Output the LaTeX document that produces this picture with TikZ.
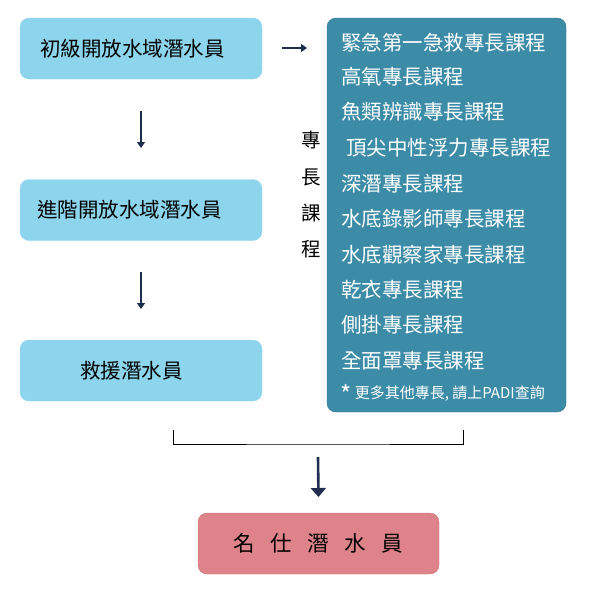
\documentclass[tikz,border=0pt]{standalone}
\usepackage{fontspec}
\setmainfont{Noto Sans CJK TC}
\usetikzlibrary{arrows.meta}
\definecolor{lightbox}{HTML}{8DD5EC}
\definecolor{tealbox}{HTML}{3C8CA8}
\definecolor{pinkbox}{HTML}{DE8389}
\definecolor{navy}{HTML}{1F2D4E}
\begin{document}
\begin{tikzpicture}[x=1pt,y=-1pt,
  lvl/.style={draw=lightbox!90!white, fill=lightbox, rounded corners=9pt, minimum width=242pt, minimum height=61pt, inner sep=0pt, font=\fontsize{20.5}{22}\selectfont, text=black},
  course/.style={anchor=west, text=white, inner sep=0pt, font=\fontsize{20.5}{22}\selectfont},
  vchar/.style={inner sep=0pt, font=\fontsize{19.5}{22}\selectfont},
  arr/.style={draw=navy, line width=2.6pt, -{Triangle[width=15pt,length=9pt]}},
  sarr/.style={draw=navy, line width=1.3pt, -{Triangle[width=8pt,length=6pt]}}]
\useasboundingbox (0,0) rectangle (591,600);
\node[lvl] (b1) at (141,48.5) {\hspace*{-17pt}初級開放水域潛水員};
\node[lvl] (b2) at (141,210) {\hspace*{-23pt}進階開放水域潛水員};
\node[lvl] (b3) at (141,370.5) {\hspace*{-19pt}救援潛水員};
\node[draw=tealbox!80!black, fill=tealbox, rounded corners=9pt, minimum width=239pt, minimum height=394pt, inner sep=0pt] (tb) at (446.5,215) {};
\node[course] (c1) at (341,43) {緊急第一急救專長課程};
\node[course] (c2) at (341,77) {高氧專長課程};
\node[course] (c4) at (341,112) {魚類辨識專長課程};
\node[course] (c3) at (346,148) {頂尖中性浮力專長課程};
\node[course] (c5) at (341,184) {深潛專長課程};
\node[course] (c6) at (341,219) {水底錄影師專長課程};
\node[course] (c7) at (341,255) {水底觀察家專長課程};
\node[course] (c8) at (341,290) {乾衣專長課程};
\node[course] (c9) at (341,325) {側掛專長課程};
\node[course] (c10) at (341,361) {全面罩專長課程};
\node[course, font=\fontsize{15}{17}\selectfont] (c11) at (340,394) {{\fontsize{24}{17}\selectfont\raisebox{-5pt}{*}} 更多其他專長, 請上PADI查詢};
\node[vchar] (v1) at (311,140) {專};
\node[vchar] (v2) at (311,177) {長};
\node[vchar] (v3) at (311,213) {課};
\node[vchar] (v4) at (311,249) {程};
\node[draw=pinkbox!90!black, fill=pinkbox, rounded corners=9pt, minimum width=241pt, minimum height=61pt, inner sep=0pt, font=\fontsize{21.5}{22}\selectfont] (fin) at (318.5,543.5) {名\hspace{15.4pt}仕\hspace{15.4pt}潛\hspace{15.4pt}水\hspace{15.4pt}員};
\coordinate (a1s) at (141,111);
\coordinate (a1e) at (141,148);
\coordinate (a2s) at (141,272);
\coordinate (a2e) at (141,309);
\coordinate (rs) at (282,48);
\coordinate (re) at (307,48);
\draw[sarr] (a1s) -- (a1e);
\draw[sarr] (a2s) -- (a2e);
\draw[sarr] (rs) -- (re);
\coordinate (bl) at (173,430);
\coordinate (br) at (463,430);
\draw[black, line width=1pt] (bl) |- (318,444) -| (br);
\coordinate (fs) at (318,457);
\draw[arr] (fs) -- (fin.north |- 0,497);
\end{tikzpicture}
\end{document}
